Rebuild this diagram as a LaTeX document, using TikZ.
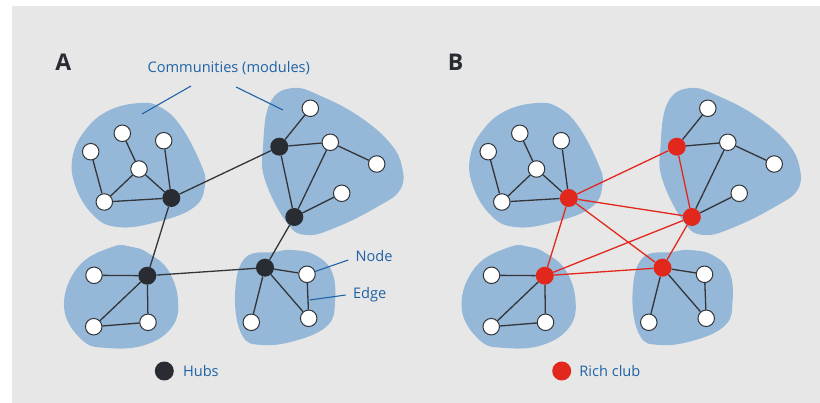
\documentclass[tikz,border=0pt]{standalone}
\usepackage{fontspec}
\setmainfont{Open Sans}
\usetikzlibrary{positioning}
\definecolor{bgray}{HTML}{E7E7E7}
\definecolor{blob}{HTML}{95B8D8}
\definecolor{lblue}{HTML}{1F63A6}
\definecolor{hubdark}{HTML}{2A2C33}
\definecolor{richred}{HTML}{E2281C}
\definecolor{edgegray}{HTML}{333539}
\tikzset{
  vert/.style={circle,draw=edgegray,fill=white,line width=1pt,minimum size=16.5pt,inner sep=0pt},
  hub/.style={circle,fill=#1,minimum size=18pt,inner sep=0pt},
  link/.style={edgegray,line width=1.3pt},
  club/.style={richred,line width=1.3pt},
  lbl/.style={text=lblue,font=\fontsize{14.6}{16}\selectfont},
  panel/.style={text=hubdark,font=\bfseries\fontsize{23}{26}\selectfont,anchor=base},
  leader/.style={lblue,line width=1.1pt},
}
\begin{document}
\begin{tikzpicture}[x=1pt,y=-1pt]
\useasboundingbox (0,0) rectangle (820,403);
\fill[bgray] (12,6) rectangle (820,403);

\foreach \p/\dx/\hc in {A/0pt/hubdark,B/397.5pt/richred}{
\begin{scope}[xshift=\dx]
% modules
\fill[blob] plot[smooth cycle, tension=.7] coordinates {(140,103) (110,110) (87,128) (73,155) (75,185) (93,215) (117,227) (153,223) (193,208) (205,185) (200,162) (180,125) (160,107)};
\fill[blob] plot[smooth cycle, tension=.7] coordinates {(293,88) (270,103) (263,147) (265,180) (287,223) (307,235) (337,227) (377,207) (400,190) (402,167) (390,143) (360,117) (323,97)};
\fill[blob] plot[smooth cycle, tension=.7] coordinates {(112,247) (78,267) (64,307) (82,340) (108,348) (145,345) (172,327) (178,300) (168,270) (148,253) (132,247)};
\fill[blob] plot[smooth cycle, tension=.7] coordinates {(275,252) (245,258) (235,295) (242,335) (262,345) (298,340) (328,325) (335,302) (332,272) (315,255) (292,250)};
% top-left module
\node[vert] (\p-a1) at (90.7,151.7) {};
\node[vert] (\p-a2) at (122.3,133.3) {};
\node[vert] (\p-a3) at (163.7,140.7) {};
\node[vert] (\p-a4) at (139,169) {};
\node[vert] (\p-a5) at (104.3,202) {};
\node[hub=\hc] (\p-h1) at (171.3,198) {};
% top-right module
\node[hub=\hc] (\p-h2) at (279.3,146.7) {};
\node[vert] (\p-b1) at (310.3,108.3) {};
\node[vert] (\p-b2) at (330.3,142.3) {};
\node[vert] (\p-b3) at (376.7,164) {};
\node[vert] (\p-b4) at (341.7,193.3) {};
\node[hub=\hc] (\p-h3) at (294.3,217) {};
% bottom-left module
\node[hub=\hc] (\p-h4) at (147.3,275.7) {};
\node[vert] (\p-c1) at (94,275.3) {};
\node[vert] (\p-c2) at (93.7,326.7) {};
\node[vert] (\p-c3) at (148,322.3) {};
% bottom-right module
\node[hub=\hc] (\p-h5) at (265,267.7) {};
\node[vert] (\p-d1) at (307,274.3) {};
\node[vert] (\p-d2) at (251.3,322.3) {};
\node[vert] (\p-d3) at (308.7,318.3) {};
\draw[link] (\p-a1) -- (\p-a5) (\p-a2) -- (\p-a4) (\p-a4) -- (\p-a5)
  (\p-a4) -- (\p-h1) (\p-a3) -- (\p-h1) (\p-a5) -- (\p-h1)
  (\p-h2) -- (\p-b1) (\p-h2) -- (\p-b2) (\p-b2) -- (\p-b3)
  (\p-b2) -- (\p-h3) (\p-b4) -- (\p-h3)
  (\p-h4) -- (\p-c1) (\p-h4) -- (\p-c2) (\p-h4) -- (\p-c3) (\p-c2) -- (\p-c3)
  (\p-h5) -- (\p-d1) (\p-h5) -- (\p-d2) (\p-h5) -- (\p-d3) (\p-d1) -- (\p-d3);
\end{scope}}

% hubs (A) and rich club (B)
\draw[link] (A-h1) -- (A-h2) (A-h1) -- (A-h4) (A-h2) -- (A-h3) (A-h3) -- (A-h5) (A-h4) -- (A-h5);
\draw[club] (B-h1) -- (B-h2) (B-h1) -- (B-h3) (B-h1) -- (B-h4) (B-h1) -- (B-h5)
  (B-h2) -- (B-h3) (B-h3) -- (B-h4) (B-h3) -- (B-h5) (B-h4) -- (B-h5);

% labels
\node[panel] (panA) at (63.3,70.7) {A};
\node[panel] (panB) at (455.5,70.7) {B};
\node[lbl] (comm) at (228.8,68) {Communities (modules)};
\coordinate (commL) at (191,86);
\coordinate (commR) at (236,87);
\coordinate (modTL) at (142,114);
\coordinate (modTR) at (283,110);
\draw[leader] (commL) -- (modTL) (commR) -- (modTR);
\node[lbl] (nodetxt) at (374,256) {Node};
\coordinate (nodeptr) at (348.3,260);
\draw[leader] (nodeptr) -- (A-d1);
\node[lbl] (edgetxt) at (369.7,294.3) {Edge};
\coordinate (edgeptr) at (345.7,295);
\coordinate (edgehit) at (309.6,300);
\draw[leader] (edgeptr) -- (edgehit);

% legend
\node[hub=hubdark,minimum size=19pt] (keyhub) at (164.3,371) {};
\node[lbl,right=5.5pt of keyhub] (keyhubtxt) {Hubs};
\node[hub=richred,minimum size=19pt] (keyclub) at (561.7,371) {};
\node[lbl,right=4.5pt of keyclub] (keyclubtxt) {Rich club};
\end{tikzpicture}
\end{document}
